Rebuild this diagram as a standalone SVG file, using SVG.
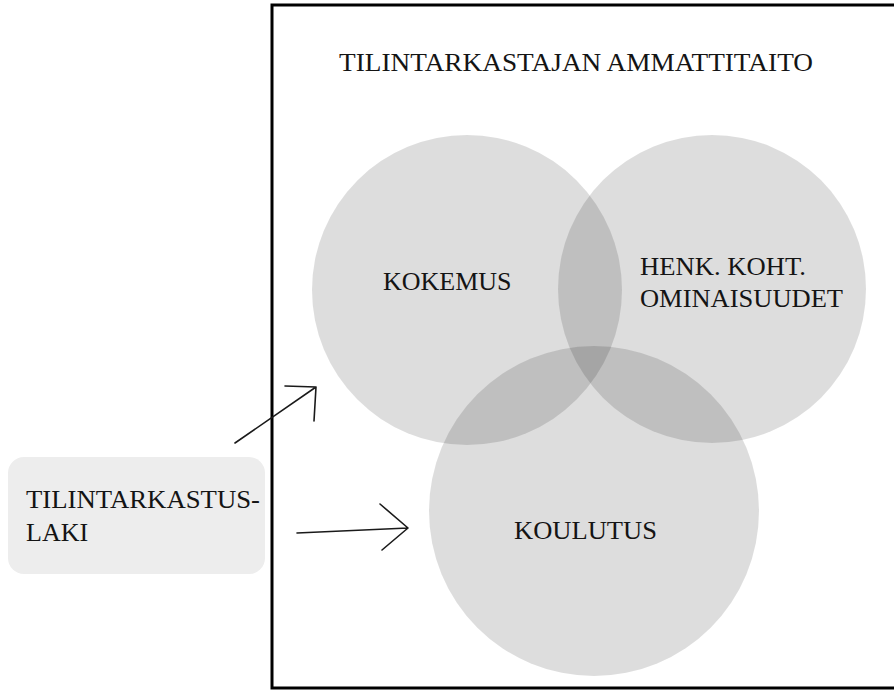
<svg xmlns="http://www.w3.org/2000/svg" width="894" height="691" viewBox="0 0 894 691">
<style>
.t{font-family:"Liberation Serif","Times New Roman",serif;font-size:26px;fill:#141414}
.c{fill:#000;fill-opacity:0.135}
.a{fill:none;stroke:#1a1a1a;stroke-width:1.6;stroke-linecap:round;stroke-linejoin:round}
</style>
<rect width="894" height="691" fill="#fff"/>
<g id="frame">
<rect x="272" y="5" width="640" height="683" fill="none" stroke="#000" stroke-width="3"/>
<text class="t" x="339" y="71" textLength="474" lengthAdjust="spacingAndGlyphs">TILINTARKASTAJAN AMMATTITAITO</text>
</g>
<g id="kokemus">
<circle class="c" cx="467" cy="290" r="155"/>
<text class="t" x="383" y="290">KOKEMUS</text>
</g>
<g id="ominaisuudet">
<circle class="c" cx="712" cy="289" r="154"/>
<text class="t" x="640" y="275" textLength="166" lengthAdjust="spacingAndGlyphs">HENK. KOHT.</text>
<text class="t" x="640" y="307" textLength="203" lengthAdjust="spacingAndGlyphs">OMINAISUUDET</text>
</g>
<g id="koulutus">
<circle class="c" cx="594" cy="511" r="165"/>
<text class="t" x="514" y="539" textLength="143" lengthAdjust="spacingAndGlyphs">KOULUTUS</text>
</g>
<g id="laki">
<rect x="8" y="457" width="257" height="117" rx="16" fill="#ededed"/>
<text class="t" x="26" y="508" textLength="234" lengthAdjust="spacingAndGlyphs">TILINTARKASTUS-</text>
<text class="t" x="26" y="541">LAKI</text>
</g>
<g id="connectors">
<path class="a" d="M235 443 L316 387 M285 386 L316 387 L314 421"/>
<path class="a" d="M297 533 L408 528 M380 504 L408 528 L382 550"/>
</g>
</svg>
